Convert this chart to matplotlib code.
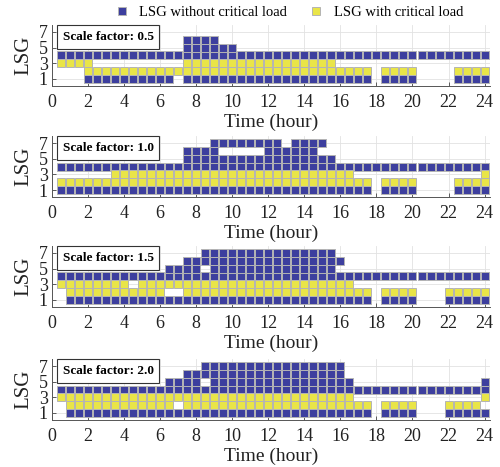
import matplotlib
matplotlib.use('Agg')
import matplotlib.pyplot as plt
import numpy as np
from matplotlib.lines import Line2D

plt.rcParams['font.family'] = 'serif'
plt.rcParams['font.serif'] = ['Liberation Serif', 'DejaVu Serif']

# half-hour time steps, LSG on-intervals (start, end) in hours, per LSG row
scale_factors = ['0.5', '1.0', '1.5', '2.0']

blue_05 = {1: [(2.0, 6.5), (7.5, 17.5), (18.5, 20.0), (22.5, 24.0)],
           4: [(0.5, 24.0)], 5: [(7.5, 10.0)], 6: [(7.5, 9.0)]}
yellow_05 = {2: [(2.0, 17.5), (18.5, 20.0), (22.5, 24.0)],
             3: [(0.5, 2.0), (7.5, 15.5)]}

blue_10 = {1: [(0.5, 17.5), (18.5, 20.0), (22.5, 24.0)],
           4: [(0.5, 24.0)], 5: [(7.5, 15.5)],
           6: [(7.5, 9.0), (12.0, 14.5)], 7: [(9.0, 12.5), (13.5, 15.0)]}
yellow_10 = {2: [(0.5, 17.5), (18.5, 20.0), (22.5, 24.0)],
             3: [(3.5, 16.5), (24.0, 24.0)]}

blue_15 = {1: [(1.0, 17.5), (18.5, 20.0), (22.0, 24.0)],
           4: [(0.5, 24.0)], 5: [(6.5, 8.0), (9.0, 15.5)],
           6: [(7.5, 16.0)], 7: [(8.5, 15.5)]}
yellow_15 = {2: [(1.0, 6.0), (7.5, 17.5), (18.5, 20.0), (22.0, 24.0)],
             3: [(0.5, 4.0), (5.0, 16.5)]}

blue_20 = {1: [(1.0, 17.5), (18.5, 20.0), (22.0, 24.0)],
           4: [(0.5, 24.0)], 5: [(6.5, 8.0), (9.0, 16.5), (24.0, 24.0)],
           6: [(7.5, 16.0)], 7: [(8.5, 16.0)]}
yellow_20 = {2: [(1.0, 6.5), (7.5, 17.5), (18.5, 20.0), (22.0, 23.5)],
             3: [(0.5, 16.5), (24.0, 24.0)]}

blues = [blue_05, blue_10, blue_15, blue_20]
yellows = [yellow_05, yellow_10, yellow_15, yellow_20]

BLUE = '#3d3f9e'
YELLOW = '#e9e548'
EDGE = '#b4b4b4'


def expand(rows):
    xs, ys = [], []
    for lsg, spans in rows.items():
        for a, b in spans:
            t = np.arange(a, b + 0.01, 0.5)
            xs.extend(t)
            ys.extend([lsg] * len(t))
    return xs, ys


fig = plt.figure(figsize=(5.0, 4.67), dpi=100)
bottoms = [0.816, 0.578, 0.343, 0.1006]

for sf, brows, yrows, b in zip(scale_factors, blues, yellows, bottoms):
    ax = fig.add_axes([0.104, b, 0.876, 0.1306])
    for rows, col in [(brows, BLUE), (yrows, YELLOW)]:
        xs, ys = expand(rows)
        ax.plot(xs, ys, 's', ms=5.4, mfc=col, mec=EDGE, mew=0.7, zorder=3)
    ax.set_xlim(0, 24.3)
    ax.set_ylim(0.1, 7.9)
    ax.set_xticks(np.arange(0, 25, 2))
    ax.set_yticks([1, 3, 5, 7])
    ax.tick_params(direction='in', length=3, width=0.6, colors='#444444',
                   labelcolor='#222222', labelsize=13)
    ax.tick_params(axis='x', pad=6)
    ax.tick_params(axis='y', pad=3)
    ax.grid(True, color='#e2e2e2', lw=0.6)
    ax.set_axisbelow(True)
    for s in ['top', 'right']:
        ax.spines[s].set_visible(False)
    for s in ['left', 'bottom']:
        ax.spines[s].set_color('#555555')
        ax.spines[s].set_linewidth(0.7)
    ax.set_xlabel('Time (hour)', fontsize=14, color='#222222', labelpad=2)
    ax.set_ylabel('LSG', fontsize=15, color='#222222', labelpad=4)
    ax.text(0.024, 0.9, 'Scale factor: ' + sf, transform=ax.transAxes,
            ha='left', va='top', fontsize=9.5, fontweight='bold', zorder=5,
            bbox=dict(boxstyle='square,pad=0.45', fc='white', ec='#333333', lw=0.8))

handles = [Line2D([], [], ls='none', marker='s', ms=5.5, mfc=BLUE, mec=EDGE, mew=0.7),
           Line2D([], [], ls='none', marker='s', ms=5.5, mfc=YELLOW, mec=EDGE, mew=0.7)]
fig.legend(handles, ['LSG without critical load', 'LSG with critical load'],
           loc='upper center', bbox_to_anchor=(0.57, 1.015), ncol=2, frameon=False,
           fontsize=10.5, handletextpad=0.2, columnspacing=1.0)

fig.savefig('out.png', dpi=100)
